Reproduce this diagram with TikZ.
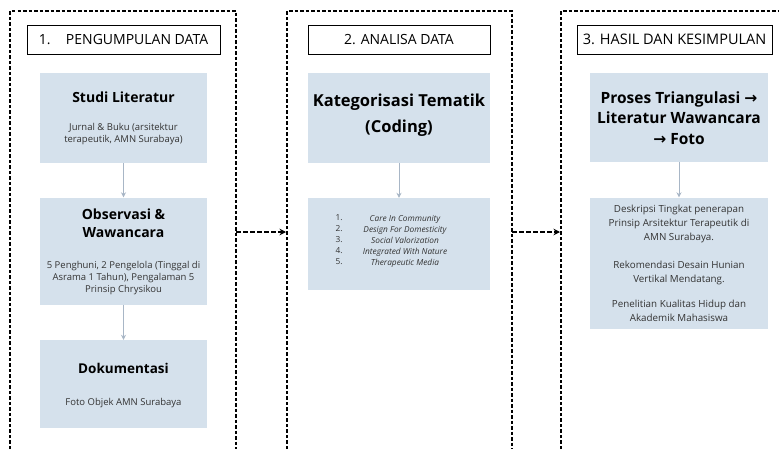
\documentclass[tikz,border=0pt]{standalone}
\usepackage{fontspec}
\setmainfont{Open Sans}
\newfontfamily\symfont{DejaVu Sans}
\usetikzlibrary{arrows.meta}
\definecolor{boxfill}{HTML}{D5E1EC}
\definecolor{arrgray}{HTML}{A8B6C6}
\definecolor{txt}{HTML}{333333}
\newcommand{\rarr}{{\symfont\bfseries →}}
\tikzset{
  panel/.style={draw=black, line width=1.3pt, dash pattern=on 3.5pt off 2pt},
  titlebox/.style={draw=black, line width=0.8pt, fill=white, inner sep=0pt, font=\fontsize{14}{16}\selectfont, text=black},
  bluebox/.style={fill=boxfill, draw=none, inner sep=0pt},
  headtxt/.style={font=\bfseries\fontsize{14}{18}\selectfont, align=center, text=black},
  smalltxt/.style={font=\fontsize{9.5}{12.3}\selectfont, align=center, text=txt},
  flow/.style={draw=arrgray, line width=0.9pt, -{Stealth[length=5pt,width=5pt]}},
  link/.style={draw=black, line width=1.2pt, dash pattern=on 4.5pt off 2.5pt, -{Stealth[length=6.5pt,width=6.5pt]}},
}
\begin{document}
\begin{tikzpicture}[x=1pt,y=-1pt]
\useasboundingbox (0,0) rectangle (779,450);
\clip (0,0) rectangle (779,450);
\fill[white] (0,0) rectangle (779,450);
% panels
\draw[panel] (10,449) -- (10,11) -- (236,11) -- (236,449);
\draw[panel] (287,449) -- (287,11) -- (512,11) -- (512,449);
\draw[panel] (561,449) -- (561,11) -- (790,11);
% title boxes
\node[titlebox, minimum width=193pt, minimum height=29pt] (t1) at (123.5,39.5) {1.\hspace{1.1em}PENGUMPULAN DATA};
\node[titlebox, minimum width=182pt, minimum height=29pt] (t2) at (399,39.5) {2. ANALISA DATA};
\node[titlebox, minimum width=195pt, minimum height=29pt, font=\fontsize{14.5}{16}\selectfont] (t3) at (674.5,39.5) {3. HASIL DAN KESIMPULAN};
% panel 1 boxes
\node[bluebox, minimum width=167pt, minimum height=90pt] (b1) at (123.5,118) {};
\node[headtxt] (b1h) at (123.5,97) {Studi Literatur};
\node[smalltxt] (b1s) at (123.5,134) {Jurnal \& Buku (arsitektur\\terapeutik, AMN Surabaya)};
\node[bluebox, minimum width=167pt, minimum height=107pt] (b2) at (123.5,251) {};
\node[headtxt] (b2h) at (123.5,223) {Observasi \&\\Wawancara};
\node[smalltxt] (b2s) at (123.5,278) {5 Penghuni, 2 Pengelola (Tinggal di\\Asrama 1 Tahun), Pengalaman 5\\Prinsip Chrysikou};
\node[bluebox, minimum width=167pt, minimum height=88pt] (b3) at (123.5,384) {};
\node[headtxt, font=\bfseries\fontsize{13.5}{18}\selectfont] (b3h) at (123.5,368) {Dokumentasi};
\node[smalltxt] (b3s) at (123.5,403) {Foto Objek AMN Surabaya};
\draw[flow] (b1.south) -- (b2.north);
\draw[flow] (b2.south) -- (b3.north);
% panel 2 boxes
\node[bluebox, minimum width=182pt, minimum height=90pt] (c1) at (399,118) {};
\node[headtxt, font=\bfseries\fontsize{16.5}{26}\selectfont] (c1h) at (399,115) {Kategorisasi Tematik\\(Coding)};
\node[bluebox, minimum width=182pt, minimum height=92pt] (c2) at (399,244) {};
\node[smalltxt, font=\fontsize{8.3}{11}\selectfont, align=left, anchor=north west] (c2n) at (332,211.5) {1.\\2.\\3.\\4.\\5.};
\node[smalltxt, font=\itshape\fontsize{8.3}{11}\selectfont, anchor=north] (c2s) at (405,211.5) {Care In Community\\Design For Domesticity\\Social Valorization\\Integrated With Nature\\Therapeutic Media};
\draw[flow] (c1.south) -- (c2.north);
% panel 3 boxes
\node[bluebox, minimum width=178pt, minimum height=89pt] (d1) at (679,117.5) {};
\node[headtxt, font=\bfseries\fontsize{15.5}{20.5}\selectfont] (d1h) at (679,118) {Proses Triangulasi \rarr\\Literatur Wawancara\\\rarr{} Foto};
\node[bluebox, minimum width=178pt, minimum height=131pt] (d2) at (679,263) {};
\node[smalltxt, font=\fontsize{9.8}{14}\selectfont] (d2a) at (679,224) {Deskripsi Tingkat penerapan\\Prinsip Arsitektur Terapeutik di\\AMN Surabaya.};
\node[smalltxt, font=\fontsize{9.8}{14}\selectfont] (d2b) at (679,273) {Rekomendasi Desain Hunian\\Vertikal Mendatang.};
\node[smalltxt, font=\fontsize{9.8}{14}\selectfont] (d2c) at (679,311) {Penelitian Kualitas Hidup dan\\Akademik Mahasiswa};
\draw[flow] (d1.south) -- (d2.north);
% links between panels
\coordinate (l1a) at (236,232);
\coordinate (l1b) at (286,232);
\coordinate (l2a) at (512,232);
\coordinate (l2b) at (560,232);
\draw[link] (l1a) -- (l1b);
\draw[link] (l2a) -- (l2b);
\end{tikzpicture}
\end{document}
